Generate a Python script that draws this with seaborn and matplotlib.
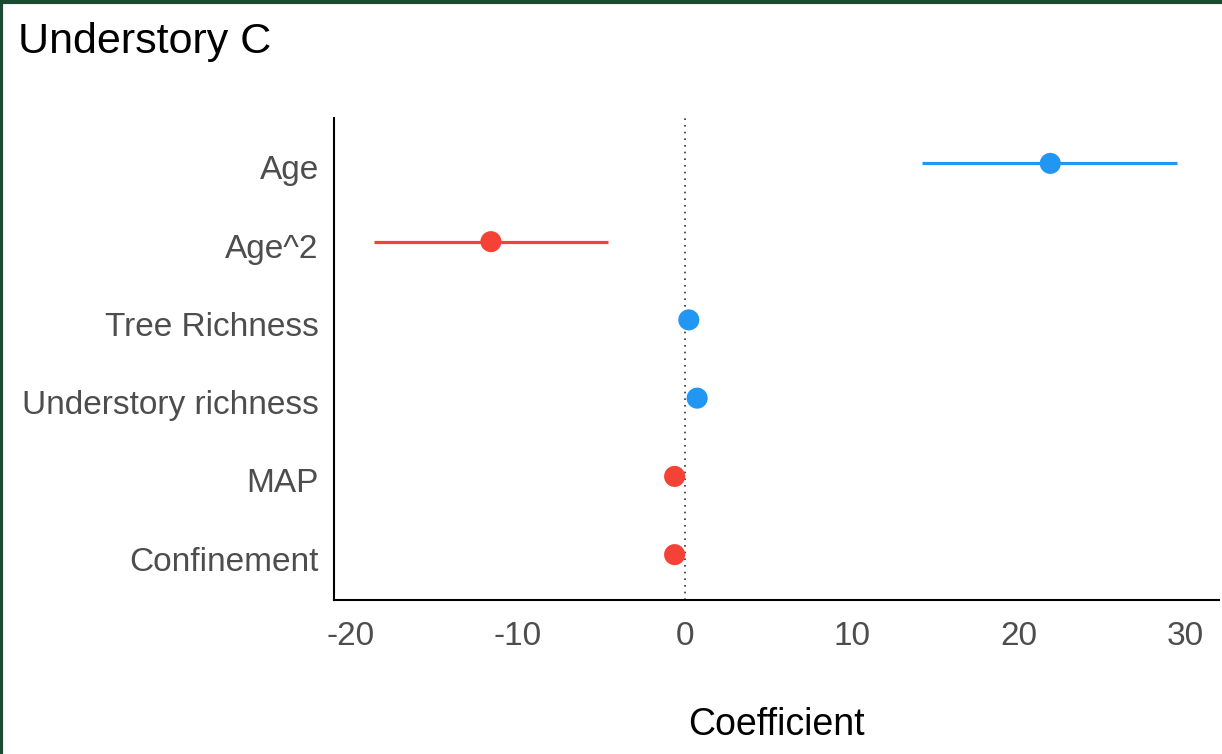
import numpy as np
import pandas as pd
import matplotlib.pyplot as plt
import matplotlib.transforms as mtransforms
import seaborn as sns
from matplotlib.lines import Line2D

# ── Data ────────────────────────────────────────────────────
terms = ['Age', 'Age^2', 'Tree Richness', 'Understory richness', 'MAP', 'Confinement']
estimate = [21.9, -11.6, 0.25, 0.75, -0.6, -0.6]
ci_low = [14.2, -18.6, -0.1, 0.4, -0.9, -0.9]
ci_high = [29.5, -4.6, 0.6, 1.1, -0.3, -0.3]

df = pd.DataFrame({'term': terms, 'estimate': estimate,
                   'low': ci_low, 'high': ci_high})
df['pos'] = np.arange(len(df))
df['sign'] = np.where(df['estimate'] > 0, 'pos', 'neg')
palette = {'pos': '#2196F3', 'neg': '#F44336'}

sns.set_style('white')
plt.rcParams['font.family'] = ['Liberation Sans', 'DejaVu Sans']
plt.rcParams['axes.unicode_minus'] = False

fig = plt.figure(figsize=(12.22, 7.54), dpi=100)
ax = fig.add_axes([0.2733, 0.2042, 0.7242, 0.6393])

ax.axvline(0, color='#333333', linestyle=(0, (1, 3)), linewidth=1.2, zorder=1)

for _, r in df.iterrows():
    ax.hlines(r['pos'], r['low'], r['high'], color=palette[r['sign']],
              linewidth=2.3, zorder=2)

sns.scatterplot(data=df, x='estimate', y='pos', hue='sign', palette=palette,
                s=230, edgecolor='none', legend=False, ax=ax, zorder=3)

ax.set_xlim(-21.0, 32.0)
ax.set_ylim(5.58, -0.58)
ax.set_xticks([-20, -10, 0, 10, 20, 30])
ax.set_yticks(df['pos'])
ax.set_yticklabels(df['term'])
ax.tick_params(axis='both', length=0, labelsize=24, labelcolor='#4d4d4d')
ax.tick_params(axis='y', pad=11)
ax.tick_params(axis='x', pad=15)

# nudge y labels a few pixels down, as in the reference
shift = mtransforms.ScaledTranslation(0, -4 / 100, fig.dpi_scale_trans)
for lbl in ax.get_yticklabels():
    lbl.set_transform(lbl.get_transform() + shift)

ax.set_xlabel('Coefficient', fontsize=27, color='black', labelpad=40)
ax.set_ylabel('')

for side in ['top', 'right']:
    ax.spines[side].set_visible(False)
for side in ['left', 'bottom']:
    ax.spines[side].set_color('black')
    ax.spines[side].set_linewidth(1.5)

fig.text(0.015, 0.944, 'Understory C', fontsize=31, color='black',
         ha='left', va='center')

# dark green frame on left and top edges
border = '#1b4a32'
fig.add_artist(Line2D([0.0012, 0.0012], [0, 1], transform=fig.transFigure,
                      color=border, linewidth=3))
fig.add_artist(Line2D([0, 1], [0.998, 0.998], transform=fig.transFigure,
                      color=border, linewidth=3))

plt.savefig('out.png', dpi=100)
